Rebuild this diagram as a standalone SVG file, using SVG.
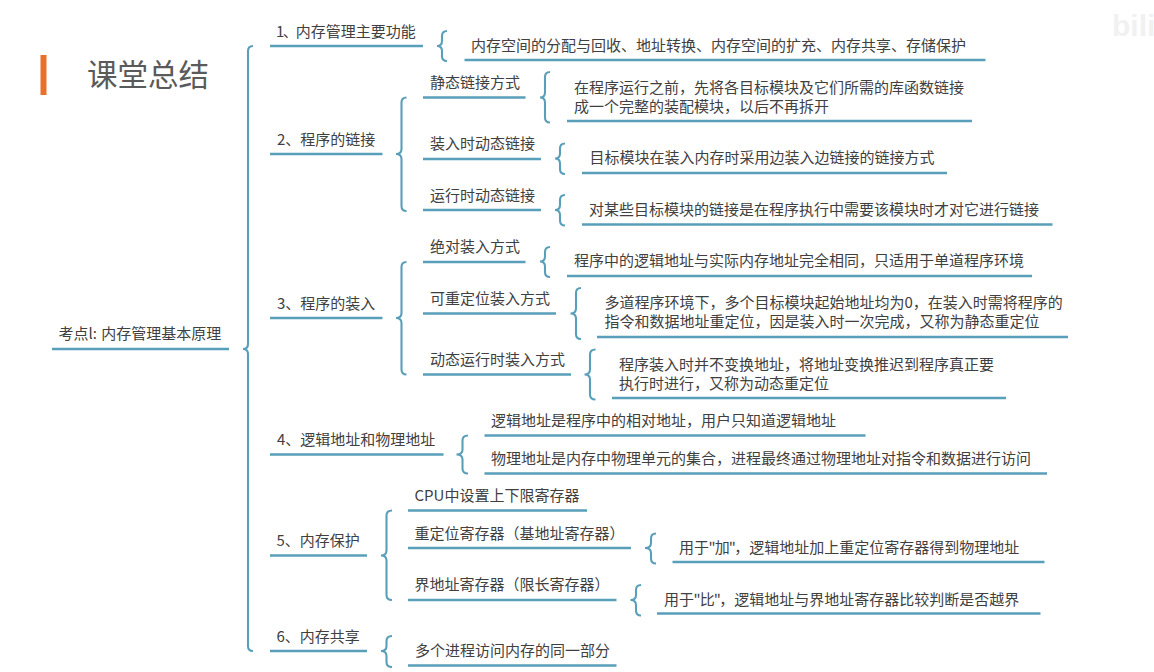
<svg xmlns="http://www.w3.org/2000/svg" width="1154" height="672" viewBox="0 0 1154 672">
<style>
.l{stroke:#5a9fba;stroke-width:2.300;fill:none}
.b{stroke:#5a9fba;stroke-width:2.100;fill:none}
text{font-family:"Noto Sans CJK SC","Liberation Sans",sans-serif;font-size:15px;fill:#404040}
</style>
<rect width="1154" height="672" fill="#fff"/>
<text x="1112" y="36" style="font-family:'Liberation Sans',sans-serif;font-size:30px;font-weight:700;fill:#f1f1f1">bili</text>
<rect x="40.500" y="55" width="6" height="40" fill="#e8702a"/>
<text x="87" y="86" style="font-size:30.500px;fill:#5a5a5a">课堂总结</text>
<g id="connectors">
<path class="b" d="M253 46Q248 46 248 51V344Q248 349 243 349Q248 349 248 354V646Q248 651 253 651"/>
<path class="b" d="M447 31Q442 31 442 36V41Q442 46 437 46Q442 46 442 51V56Q442 61 447 61"/>
<path class="b" d="M406.500 97.500Q401.500 97.500 401.500 102.500V149Q401.500 154 396 154Q401.500 154 401.500 159V206Q401.500 211 406.500 211"/>
<path class="b" d="M550 72Q545 72 545 77V92.500Q545 97.500 540 97.500Q545 97.500 545 102.500V117.500Q545 122.500 550 122.500"/>
<path class="b" d="M565 143.500Q560 143.500 560 148.500V153.500Q560 158.500 555 158.500Q560 158.500 560 163.500V169Q560 174 565 174"/>
<path class="b" d="M565 195Q560 195 560 200V205Q560 210 555 210Q560 210 560 215V220.500Q560 225.500 565 225.500"/>
<path class="b" d="M406.500 262Q401.500 262 401.500 267V313Q401.500 318 396 318Q401.500 318 401.500 323V369.500Q401.500 374.500 406.500 374.500"/>
<path class="b" d="M550 247Q545 247 545 252V256.500Q545 261.500 540 261.500Q545 261.500 545 266.500V272Q545 277 550 277"/>
<path class="b" d="M581 288Q576 288 576 293V308.500Q576 313.500 570.500 313.500Q576 313.500 576 318.500V334Q576 339 581 339"/>
<path class="b" d="M595.500 349.500Q590 349.500 590 354.500V369.500Q590 374.500 584.500 374.500Q590 374.500 590 379.500V394.500Q590 399.500 595.500 399.500"/>
<path class="b" d="M468 435.500Q462.500 435.500 462.500 440.500V449.500Q462.500 454.500 456.500 454.500Q462.500 454.500 462.500 459.500V468.500Q462.500 473.500 468 473.500"/>
<path class="b" d="M392 510.500Q386.500 510.500 386.500 515.500V550.500Q386.500 555.500 381 555.500Q386.500 555.500 386.500 560.500V595Q386.500 600 392 600"/>
<path class="b" d="M656 533.500Q651 533.500 651 538.500V543Q651 548 645 548Q651 548 651 553V558.500Q651 563.500 656 563.500"/>
<path class="b" d="M641 585Q636 585 636 590V595Q636 600 630.500 600Q636 600 636 605V610.500Q636 615.500 641 615.500"/>
<path class="b" d="M392 636Q386.500 636 386.500 641V646Q386.500 651 381 651Q386.500 651 386.500 656V662Q386.500 667 392 667"/>
<path class="l" d="M52 349H229M270 46H423M464.500 60H985.500M270 154H382.500M423 97.500H525.500M567 121H972M423 159H541M582 173H947M423 210H541M582 224.500H1052.500M270 318H382.500M423 262H525.500M567 276H1032M423 313.500H556M597 337H1068M423 374.500H571M612 398H1006M270 454.500H443.500M484.500 435.500H865.500M484.500 473.500H1047M270 555.500H367M408 510.500H587M408 548H631M672.500 562H1044.500M408 600H616.500M657 613.500H1040.500M270 651H367M408 665.500H616.500"/>
</g>
<g id="root"><text x="58.500" y="339">考点l: <tspan dx="1">内存管理基本原理</tspan></text></g>
<g id="n1"><text x="276" y="37">1<tspan dx="-1.500">、</tspan><tspan dx="-2">内存管理主要功能</tspan></text><text x="471" y="50.500">内存空间的分配与回收、地址转换、内存空间的扩充、内存共享、存储保护</text></g>
<g id="n2"><text x="277" y="145">2、程序的链接</text>
<text x="430" y="88">静态链接方式</text><text x="574" y="92.500">在程序运行之前，先将各目标模块及它们所需的库函数链接</text><text x="574" y="112">成一个完整的装配模块，以后不再拆开</text>
<text x="430" y="149">装入时动态链接</text><text x="589.500" y="163">目标模块在装入内存时采用边装入边链接的链接方式</text>
<text x="430" y="201">运行时动态链接</text><text x="589" y="214.500">对某些目标模块的链接是在程序执行中需要该模块时才对它进行链接</text></g>
<g id="n3"><text x="277" y="309">3、程序的装入</text>
<text x="430" y="252">绝对装入方式</text><text x="574" y="266">程序中的逻辑地址与实际内存地址完全相同，只适用于单道程序环境</text>
<text x="430" y="304">可重定位装入方式</text><text x="604.500" y="308">多道程序环境下，多个目标模块起始地址均为0，在装入时需将程序的</text><text x="604.500" y="327">指令和数据地址重定位，因是装入时一次完成，又称为静态重定位</text>
<text x="430" y="365">动态运行时装入方式</text><text x="619" y="369.500">程序装入时并不变换地址，将地址变换推迟到程序真正要</text><text x="619" y="388.500">执行时进行，又称为动态重定位</text></g>
<g id="n4"><text x="277" y="444.500">4、逻辑地址和物理地址</text><text x="491" y="426">逻辑地址是程序中的相对地址，用户只知道逻辑地址</text><text x="491" y="463.500">物理地址是内存中物理单元的集合，进程最终通过物理地址对指令和数据进行访问</text></g>
<g id="n5"><text x="276.500" y="545.500">5、内存保护</text><text x="414.500" y="501">CPU中设置上下限寄存器</text>
<text x="414.500" y="538.500">重定位寄存器（基地址寄存器）</text><text x="679" y="552.500">用于<tspan dx="-.5">"</tspan><tspan dx="-1">加</tspan><tspan dx="-1">"</tspan><tspan dx="-1.500">，逻辑地址加上重定位寄存器得到物理地址</tspan></text>
<text x="414.500" y="590">界地址寄存器（限长寄存器）</text><text x="664" y="604.500">用于<tspan dx="-.5">"</tspan><tspan dx="-1">比</tspan><tspan dx="-1">"</tspan><tspan dx="-1.500">，逻辑地址与界地址寄存器比较判断是否越界</tspan></text></g>
<g id="n6"><text x="276.500" y="642">6、内存共享</text><text x="415" y="655.500">多个进程访问内存的同一部分</text></g>
</svg>
